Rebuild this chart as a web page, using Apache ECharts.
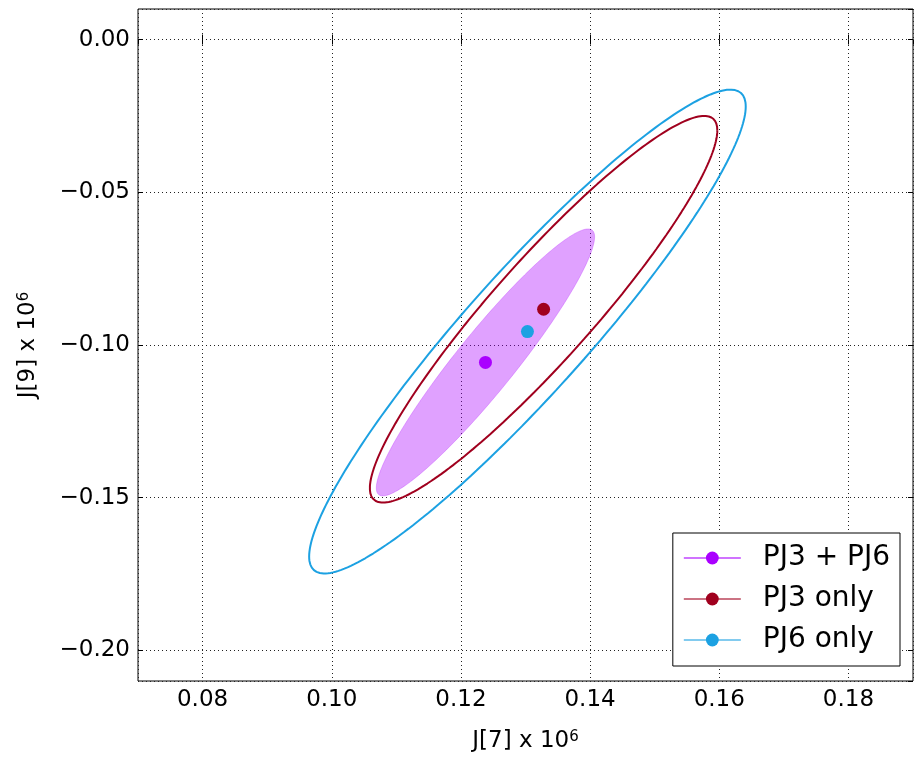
<!DOCTYPE html>
<html>
<head>
<meta charset="utf-8">
<script src="https://cdn.jsdelivr.net/npm/echarts@6/dist/echarts.min.js"></script>
<style>
  html, body { margin: 0; padding: 0; background: #fff; }
  #main { width: 915px; height: 761px; }
</style>
</head>
<body>
<div id="main"></div>
<script>
// names of the three solutions
var names = ['PJ3 + PJ6', 'PJ3 only', 'PJ6 only'];
var colors = ['#aa00ff', '#a0001e', '#1ca1e2'];

// best-fit points (J7, J9) x 1e6
var centerJ7 = [0.1238, 0.1328, 0.1303];
var centerJ9 = [-0.1057, -0.0883, -0.0956];

// uncertainty ellipses: half-extent along J7, J9 and correlation
var sigJ7 = [0.0169, 0.0269, 0.0338];
var sigJ9 = [0.0437, 0.0633, 0.0792];
var corr = [0.94, 0.925, 0.93];

var xTicks = [0.08, 0.10, 0.12, 0.14, 0.16, 0.18];
var yTicks = [0.00, -0.05, -0.10, -0.15, -0.20];

function ellipse(i) {
    var pts = [];
    var s = Math.sqrt(1 - corr[i] * corr[i]);
    for (var k = 0; k <= 240; k++) {
        var t = k / 240 * 2 * Math.PI;
        pts.push([centerJ7[i] + sigJ7[i] * Math.cos(t),
                  centerJ9[i] + sigJ9[i] * (corr[i] * Math.cos(t) + s * Math.sin(t))]);
    }
    return pts;
}

function fmt(v) {
    if (Math.abs(v) < 1e-9) v = 0;
    return (v < 0 ? '\u2212' : '') + Math.abs(v).toFixed(2);
}

var font = 'DejaVu Sans';
var chart = echarts.init(document.getElementById('main'));

var series = [];
// filled ellipse for combined solution
series.push({
    name: 'fill',
    type: 'custom',
    z: 1,
    data: [0],
    renderItem: function (params, api) {
        var pts = ellipse(0).map(function (p) { return api.coord(p); });
        return {
            type: 'polygon',
            shape: { points: pts },
            style: { fill: 'rgba(170,0,255,0.37)', stroke: 'rgba(170,0,255,0.25)', lineWidth: 1 }
        };
    }
});
// outline ellipses
[1, 2].forEach(function (i) {
    series.push({
        name: names[i] + ' ellipse',
        type: 'line',
        z: 2,
        data: ellipse(i),
        showSymbol: false,
        symbol: 'none',
        silent: true,
        lineStyle: { color: colors[i], width: 2 }
    });
});
// best-fit points (also give the legend its icons)
[0, 1, 2].forEach(function (i) {
    series.push({
        name: names[i],
        type: 'line',
        z: 5,
        data: [[centerJ7[i], centerJ9[i]]],
        symbol: 'circle',
        symbolSize: 13,
        itemStyle: { color: colors[i] },
        lineStyle: { color: colors[i], width: 2, opacity: 0.55 }
    });
});

var gridLine = { show: true, lineStyle: { color: '#222', type: [1, 3], width: 1 } };
var nameStyle = {
    fontFamily: font, fontSize: 23, color: '#000',
    rich: { sup: { fontFamily: font, fontSize: 15, color: '#000', verticalAlign: 'top' } }
};

chart.setOption({
    animation: false,
    backgroundColor: '#fff',
    textStyle: { fontFamily: font },
    grid: { left: 138, right: 2, top: 9, bottom: 80, show: true, borderColor: '#000', borderWidth: 1 },
    legend: {
        data: names,
        orient: 'vertical',
        right: 15,
        top: 533,
        backgroundColor: '#fff',
        borderColor: '#000',
        borderWidth: 1,
        borderRadius: 0,
        padding: [10, 10, 11, 10],
        itemWidth: 57,
        itemHeight: 16,
        itemGap: 11,
        selectedMode: false,
        textStyle: { fontFamily: font, fontSize: 28, color: '#000', lineHeight: 30, padding: [0, 0, 0, 17] }
    },
    xAxis: [{
        type: 'value', min: 0.07, max: 0.19, splitNumber: 6,
        name: 'J[7] x 10{sup|6}', nameLocation: 'middle', nameGap: 49,
        nameTextStyle: nameStyle,
        axisLine: { show: false },
        axisTick: { inside: true, length: 5, lineStyle: { color: '#000' } },
        axisLabel: { formatter: fmt, fontFamily: font, fontSize: 23, color: '#000', margin: 8, showMinLabel: false, showMaxLabel: false },
        splitLine: gridLine
    }, {
        type: 'value', min: 0.07, max: 0.19, splitNumber: 6, position: 'top',
        axisLine: { show: false },
        axisTick: { inside: true, length: 5, lineStyle: { color: '#000' } },
        axisLabel: { show: false }, splitLine: { show: false }
    }],
    yAxis: [{
        type: 'value', min: -0.21, max: 0.01, splitNumber: 5,
        name: 'J[9] x 10{sup|6}', nameLocation: 'middle', nameGap: 98,
        nameTextStyle: nameStyle,
        axisLine: { show: false },
        axisTick: { inside: true, length: 5, lineStyle: { color: '#000' } },
        axisLabel: { formatter: fmt, fontFamily: font, fontSize: 23, color: '#000', margin: 8, showMinLabel: false, showMaxLabel: false },
        splitLine: gridLine
    }, {
        type: 'value', min: -0.21, max: 0.01, splitNumber: 5, position: 'right',
        axisLine: { show: false },
        axisTick: { inside: true, length: 5, lineStyle: { color: '#000' } },
        axisLabel: { show: false }, splitLine: { show: false }
    }],
    series: series
});
</script>
</body>
</html>
